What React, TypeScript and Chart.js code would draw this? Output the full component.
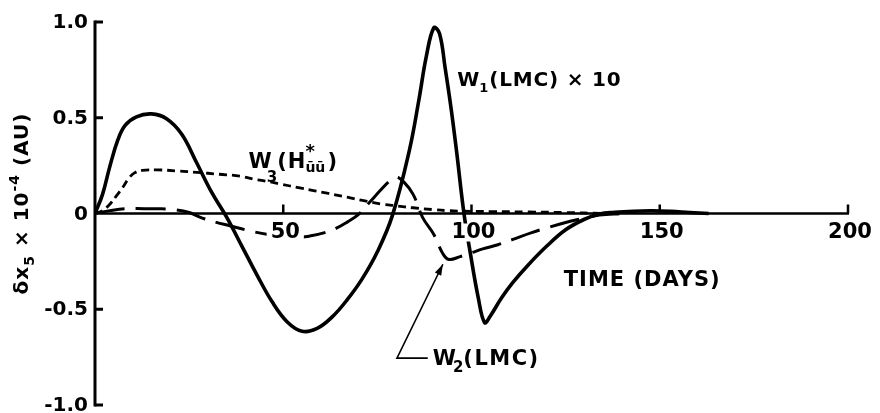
import { useEffect, useRef } from 'react';
import { Chart, registerables } from 'chart.js';

Chart.register(...registerables);

// W1(LMC) x 10 — solid curve
const w1Days = [0, 2, 4, 6, 8, 11, 15, 19, 23, 27, 31, 35, 39, 43, 47, 51, 55, 59, 63, 67, 71, 75, 79, 83.5, 86, 88, 90, 91.5, 93, 94.5, 96, 98, 99.8, 101.8, 103.5, 105, 108, 111, 115, 120, 125, 130, 134, 138, 143, 148, 153, 158, 163];
const w1Values = [0, 0.1, 0.25, 0.38, 0.46, 0.505, 0.52, 0.495, 0.415, 0.265, 0.11, -0.02, -0.17, -0.32, -0.46, -0.565, -0.615, -0.6, -0.54, -0.45, -0.34, -0.2, -0.01, 0.33, 0.59, 0.82, 0.97, 0.94, 0.76, 0.56, 0.33, 0.0, -0.22, -0.44, -0.57, -0.535, -0.44, -0.36, -0.27, -0.17, -0.085, -0.03, -0.003, 0.006, 0.012, 0.014, 0.011, 0.005, 0];

// W2(LMC) — long dashes
const w2Days = [0, 4, 8, 13, 17, 21, 25, 28, 32, 36, 41, 46, 52, 57, 61, 64, 67, 70, 73, 76, 78, 80, 82, 84.5, 87, 90, 92.4, 94, 97, 100, 103, 107, 111, 116, 120, 125, 130.5, 134, 140];
const w2Values = [0, 0.015, 0.025, 0.025, 0.025, 0.02, 0.005, -0.02, -0.045, -0.065, -0.09, -0.11, -0.125, -0.118, -0.1, -0.078, -0.045, -0.005, 0.06, 0.125, 0.165, 0.19, 0.165, 0.1, -0.02, -0.11, -0.21, -0.24, -0.225, -0.205, -0.185, -0.163, -0.135, -0.1, -0.075, -0.047, -0.022, -0.008, 0];

// W3(H*ūū) — short dashes
const w3Days = [0, 2, 4, 6, 7.5, 9, 10.5, 12.5, 16.5, 22, 27, 33, 38.5, 42, 46.5, 49, 54, 58, 62, 67, 71, 76, 80, 84.5, 90, 93.5, 98, 105, 115, 125, 135];
const w3Values = [0, 0.015, 0.05, 0.1, 0.14, 0.185, 0.212, 0.225, 0.228, 0.222, 0.215, 0.205, 0.195, 0.18, 0.165, 0.155, 0.135, 0.12, 0.105, 0.085, 0.068, 0.05, 0.04, 0.03, 0.02, 0.015, 0.012, 0.01, 0.008, 0.005, 0];

const xTicks = [50, 100, 150, 200];
const xTickLabels = ['50', '100', '150', '200'];
const yTicks = [1, 0.5, 0, -0.5, -1];
const yTickLabels = ['1.0', '0.5', '0', '-0.5', '-1.0'];

const FONT = '"DejaVu Sans", "Liberation Sans", sans-serif';

type Run = { t: string; size: number; dy?: number };

function setFont(ctx: CanvasRenderingContext2D, size: number, spacing: number) {
  ctx.font = `bold ${size}px ${FONT}`;
  (ctx as any).letterSpacing = `${spacing}px`;
}

function runsWidth(ctx: CanvasRenderingContext2D, runs: Run[], spacing: number) {
  let w = 0;
  for (const r of runs) {
    setFont(ctx, r.size, spacing);
    w += ctx.measureText(r.t).width;
  }
  return w;
}

function drawRuns(ctx: CanvasRenderingContext2D, runs: Run[], x: number, y: number, spacing: number) {
  let cx = x;
  ctx.textAlign = 'left';
  ctx.textBaseline = 'alphabetic';
  for (const r of runs) {
    setFont(ctx, r.size, spacing);
    ctx.fillText(r.t, cx, y + (r.dy || 0));
    cx += ctx.measureText(r.t).width;
  }
  return cx;
}

const axesAndLabels = {
  id: 'axesAndLabels',
  afterDatasetsDraw(chart: Chart) {
    const ctx = chart.ctx;
    const xs = chart.scales.x;
    const ys = chart.scales.y;
    const x0 = xs.getPixelForValue(0);
    const xEnd = xs.getPixelForValue(200);
    const yTop = ys.getPixelForValue(1);
    const yBot = ys.getPixelForValue(-1);
    const yZero = ys.getPixelForValue(0);

    ctx.save();
    ctx.fillStyle = '#000';
    ctx.strokeStyle = '#000';
    ctx.lineCap = 'butt';

    // vertical axis with inward ticks and end caps
    ctx.lineWidth = 3;
    ctx.beginPath();
    ctx.moveTo(x0, yTop - 1.5);
    ctx.lineTo(x0, yBot + 1.5);
    ctx.stroke();
    for (const v of yTicks) {
      if (v === 0) continue;
      const py = ys.getPixelForValue(v);
      ctx.beginPath();
      ctx.moveTo(x0, py);
      ctx.lineTo(x0 + 8, py);
      ctx.stroke();
    }

    // horizontal axis through zero with upward ticks
    ctx.lineWidth = 2.5;
    ctx.beginPath();
    ctx.moveTo(x0, yZero);
    ctx.lineTo(xEnd + 1, yZero);
    ctx.stroke();
    for (const v of xTicks) {
      const px = xs.getPixelForValue(v);
      ctx.beginPath();
      ctx.moveTo(px, yZero);
      ctx.lineTo(px, yZero - 9);
      ctx.stroke();
    }

    // y tick labels
    setFont(ctx, 20, 0);
    ctx.textAlign = 'right';
    ctx.textBaseline = 'middle';
    yTicks.forEach((v, i) => {
      ctx.fillText(yTickLabels[i], x0 - 7, ys.getPixelForValue(v) + 1);
    });

    // x tick labels on a white backdrop
    setFont(ctx, 21, 0);
    ctx.textAlign = 'center';
    ctx.textBaseline = 'middle';
    xTicks.forEach((v, i) => {
      const px = xs.getPixelForValue(v) + 2;
      const py = yZero + 19;
      const w = ctx.measureText(xTickLabels[i]).width;
      ctx.fillStyle = '#fff';
      ctx.fillRect(px - w / 2 - 4, py - 9, w + 8, 18);
      ctx.fillStyle = '#000';
      ctx.fillText(xTickLabels[i], px, py);
    });

    // x axis title
    setFont(ctx, 21, 1);
    ctx.textAlign = 'left';
    ctx.textBaseline = 'alphabetic';
    ctx.fillText('TIME (DAYS)', xs.getPixelForValue(124.5), ys.getPixelForValue(-0.38));

    // y axis title, rotated
    const titleRuns: Run[] = [
      { t: 'δx', size: 20 },
      { t: '5', size: 14, dy: 6 },
      { t: ' × 10', size: 20 },
      { t: '-4', size: 14, dy: -9 },
      { t: ' (AU)', size: 20 },
    ];
    ctx.save();
    ctx.translate(28, yZero - 10);
    ctx.rotate(-Math.PI / 2);
    const tw = runsWidth(ctx, titleRuns, 1);
    drawRuns(ctx, titleRuns, -tw / 2, 0, 1);
    ctx.restore();

    // curve annotations
    const w1x = xs.getPixelForValue(96.2);
    const w1y = ys.getPixelForValue(0.665);
    let cx = drawRuns(ctx, [{ t: 'W', size: 20 }], w1x, w1y, 0);
    cx = drawRuns(ctx, [{ t: '1', size: 13, dy: 6 }], cx, w1y, 0);
    drawRuns(ctx, [{ t: '(LMC) × 10', size: 20 }], cx + 1, w1y, 0.8);

    const w3x = xs.getPixelForValue(40.8);
    const w3y = ys.getPixelForValue(0.24);
    cx = drawRuns(ctx, [{ t: 'W', size: 21 }], w3x, w3y, 0);
    cx = drawRuns(ctx, [{ t: '3', size: 15, dy: 14 }], cx - 5, w3y, 0);
    cx = drawRuns(ctx, [{ t: '(H', size: 21 }], cx, w3y, 1);
    setFont(ctx, 18, 0);
    ctx.fillText('*', cx - 1, w3y - 11);
    setFont(ctx, 14, 0);
    ctx.fillText('ūū', cx - 1, w3y + 4);
    cx = drawRuns(ctx, [{ t: ')', size: 21 }], cx + 21, w3y, 0);

    const w2x = xs.getPixelForValue(89.7);
    const w2y = ys.getPixelForValue(-0.79);
    cx = drawRuns(ctx, [{ t: 'W', size: 21 }], w2x, w2y, 0);
    cx = drawRuns(ctx, [{ t: '2', size: 15, dy: 7 }], cx - 3, w2y, 0);
    drawRuns(ctx, [{ t: '(LMC)', size: 21 }], cx, w2y, 1.5);

    // leader line with arrow to the W2 curve
    const elbowX = xs.getPixelForValue(80.2);
    const elbowY = ys.getPixelForValue(-0.755);
    const tipX = xs.getPixelForValue(92.4);
    const tipY = ys.getPixelForValue(-0.265);
    ctx.lineWidth = 1.6;
    ctx.beginPath();
    ctx.moveTo(w2x - 5, elbowY);
    ctx.lineTo(elbowX, elbowY);
    ctx.lineTo(tipX, tipY);
    ctx.stroke();
    const ang = Math.atan2(tipY - elbowY, tipX - elbowX);
    const hl = 11;
    const hw = 3.5;
    ctx.beginPath();
    ctx.moveTo(tipX, tipY);
    ctx.lineTo(tipX - hl * Math.cos(ang) + hw * Math.sin(ang), tipY - hl * Math.sin(ang) - hw * Math.cos(ang));
    ctx.lineTo(tipX - hl * Math.cos(ang) - hw * Math.sin(ang), tipY - hl * Math.sin(ang) + hw * Math.cos(ang));
    ctx.closePath();
    ctx.fill();

    ctx.restore();
  },
};

function toPoints(days: number[], values: number[]) {
  return days.map((d, i) => ({ x: d, y: values[i] }));
}

export default function App() {
  const canvasRef = useRef<HTMLCanvasElement | null>(null);

  useEffect(() => {
    const canvas = canvasRef.current;
    if (!canvas) return;
    const common = {
      borderColor: '#000',
      pointRadius: 0,
      fill: false,
      tension: 0.4,
      borderCapStyle: 'butt' as const,
      borderJoinStyle: 'round' as const,
    };
    const chart = new Chart(canvas, {
      type: 'line',
      data: {
        datasets: [
          { ...common, label: 'W1(LMC) × 10', data: toPoints(w1Days, w1Values), borderWidth: 3.6 },
          { ...common, label: 'W2(LMC)', data: toPoints(w2Days, w2Values), borderWidth: 3, borderDash: [30, 11] },
          { ...common, label: 'W3(H*ūū)', data: toPoints(w3Days, w3Values), borderWidth: 2.8, borderDash: [8, 5] },
        ],
      },
      options: {
        responsive: false,
        animation: false,
        devicePixelRatio: 1,
        events: [],
        layout: { padding: { left: 95, right: 32, top: 22, bottom: 8 } },
        scales: {
          x: { type: 'linear', min: 0, max: 200, display: false },
          y: { type: 'linear', min: -1, max: 1, display: false },
        },
        plugins: {
          legend: { display: false },
          title: { display: false },
          tooltip: { enabled: false },
        },
      },
      plugins: [axesAndLabels],
    });
    return () => chart.destroy();
  }, []);

  return (
    <div style={{ position: 'fixed', left: 0, top: 0, width: 880, height: 413, background: '#fff' }}>
      <canvas ref={canvasRef} width={880} height={413} style={{ display: 'block' }} />
    </div>
  );
}
